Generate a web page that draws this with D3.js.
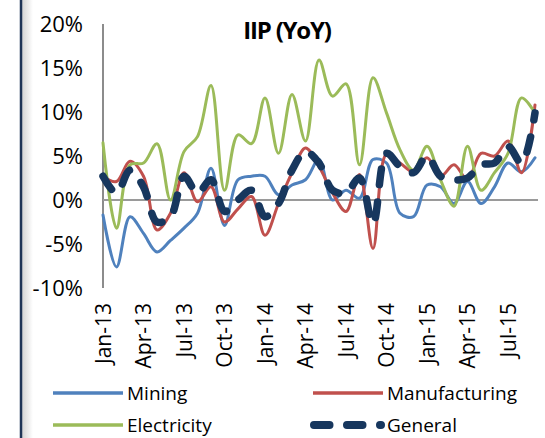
<!DOCTYPE html>
<html>
<head>
<meta charset="utf-8">
<script src="https://cdn.jsdelivr.net/npm/d3@7"></script>
<style>
  body { margin: 0; background: #fff; }
  svg { display: block; font-family: "Open Sans", sans-serif; }
</style>
</head>
<body>
<svg id="chart" width="545" height="438"></svg>
<script>
// months Jan-13 .. Sep-15
let months = ['Jan-13', 'Feb-13', 'Mar-13', 'Apr-13', 'May-13', 'Jun-13', 'Jul-13', 'Aug-13', 'Sep-13',
              'Oct-13', 'Nov-13', 'Dec-13', 'Jan-14', 'Feb-14', 'Mar-14', 'Apr-14', 'May-14', 'Jun-14',
              'Jul-14', 'Aug-14', 'Sep-14', 'Oct-14', 'Nov-14', 'Dec-14', 'Jan-15', 'Feb-15', 'Mar-15',
              'Apr-15', 'May-15', 'Jun-15', 'Jul-15', 'Aug-15', 'Sep-15'];
let tickLabels = ['Jan-13', 'Apr-13', 'Jul-13', 'Oct-13', 'Jan-14', 'Apr-14', 'Jul-14', 'Oct-14',
                  'Jan-15', 'Apr-15', 'Jul-15'];
let yTicks = [-10, -5, 0, 5, 10, 15, 20];

let mining = [-1.7, -7.6, -1.9, -3.8, -5.9, -4.6, -3.2, -1.5, 3.6, -2.9, 2.3, 2.7, 2.7, 0.6, 1.7, 2.3, 4.6,
              0.0, 1.1, 0.2, 4.6, 4.2, -1.5, -1.9, 1.7, 1.5, -0.4, 2.1, -0.4, 1.5, 4.2, 3.2, 4.8];
let manufacturing = [2.7, 2.1, 4.4, 2.7, -3.4, -1.5, 3.1, -0.2, 1.5, -2.5, -1.0, 0.4, -4.0, -0.4, 3.1, 5.9, 3.8,
                     0.8, -1.3, 2.9, -5.5, 5.2, 4.2, 3.2, 4.8, 2.7, 4.0, 2.3, 5.3, 5.0, 6.7, 3.1, 10.8];
let electricity = [6.5, -3.2, 4.0, 4.2, 6.4, 0.0, 5.5, 7.2, 13.0, 1.1, 7.4, 6.4, 11.6, 5.3, 12.0, 6.7, 15.9,
                   11.8, 13.2, 4.0, 13.9, 9.9, 5.7, 3.4, 6.1, 2.3, -0.7, 6.1, 1.1, 3.1, 5.3, 11.6, 9.9];
let general = [2.7, 0.8, 3.4, 1.5, -2.5, -1.9, 2.7, 0.8, 2.3, -1.3, 0.0, 1.1, -1.9, -0.4, 3.4, 5.5, 4.2,
               1.1, 0.8, 2.5, -2.7, 5.3, 3.8, 3.1, 5.0, 2.7, 2.3, 2.5, 4.0, 4.2, 6.1, 4.2, 9.9];

let series = [
    {name: 'Mining', values: mining, color: '#4f81bd', width: 3},
    {name: 'Manufacturing', values: manufacturing, color: '#c0504d', width: 3},
    {name: 'Electricity', values: electricity, color: '#9bbb59', width: 3},
    {name: 'General', values: general, color: '#17375e', width: 7.5, dash: '15.5,17.5'}
];

let svg = d3.select('#chart');

// frame edge on the left
let defs = svg.append('defs');
let grad = defs.append('linearGradient').attr('id', 'shade');
grad.append('stop').attr('offset', '0%').attr('stop-color', '#d4d4d4');
grad.append('stop').attr('offset', '100%').attr('stop-color', '#ffffff');
svg.append('rect').attr('x', 22).attr('y', 0).attr('width', 11).attr('height', 438).attr('fill', 'url(#shade)');
svg.append('line').attr('x1', 21).attr('x2', 21).attr('y1', 0).attr('y2', 438)
    .attr('stroke', '#1f3557').attr('stroke-width', 2.5);

let x = d3.scalePoint().domain(months).range([103, 535]),
    y = d3.scaleLinear().domain([-10, 20]).range([288, 24]);

// title
svg.append('text')
    .attr('x', 287).attr('y', 39)
    .attr('text-anchor', 'middle')
    .attr('font-weight', 'bold')
    .attr('font-size', 24)
    .attr('letter-spacing', -1.2)
    .text('IIP (YoY)');

// y axis labels
let yAxis = svg.append('g')
    .attr('transform', 'translate(103,0)')
    .call(d3.axisLeft(y).tickValues(yTicks).tickSize(0).tickPadding(20).tickFormat(d => d + '%'));
yAxis.select('.domain').remove();
yAxis.selectAll('text').attr('font-size', 22).attr('fill', '#000').attr('font-family', 'Open Sans');

svg.append('line')
    .attr('x1', 103).attr('x2', 103).attr('y1', y(20)).attr('y2', y(-10))
    .attr('stroke', '#8c8c8c').attr('stroke-width', 2);

// zero line
svg.append('line')
    .attr('x1', 103).attr('x2', 538).attr('y1', y(0)).attr('y2', y(0))
    .attr('stroke', '#9a9a9a').attr('stroke-width', 2);

// x axis labels (rotated)
let xAxis = svg.append('g')
    .attr('transform', 'translate(0,' + y(-10) + ')')
    .call(d3.axisBottom(x).tickValues(tickLabels).tickSize(0));
xAxis.select('.domain').remove();
xAxis.selectAll('text')
    .attr('font-size', 21)
    .attr('font-family', 'Open Sans')
    .attr('fill', '#000')
    .attr('transform', 'rotate(-90)')
    .attr('text-anchor', 'end')
    .attr('x', -15)
    .attr('y', 0)
    .attr('dy', '0.35em');

let line = d3.line()
    .x((d, i) => x(months[i]))
    .y(d => y(d))
    .curve(d3.curveCatmullRom);

svg.selectAll('.series')
    .data(series)
    .enter()
    .append('path')
    .attr('class', 'series')
    .attr('fill', 'none')
    .attr('stroke', d => d.color)
    .attr('stroke-width', d => d.width)
    .attr('stroke-linecap', 'round')
    .attr('stroke-linejoin', 'round')
    .attr('stroke-dasharray', d => d.dash || null)
    .attr('d', d => line(d.values));

// legend
let legendPos = [[53, 393], [313, 393], [53, 425], [313, 425]];
let legend = svg.selectAll('.legend')
    .data(series)
    .enter()
    .append('g')
    .attr('class', 'legend')
    .attr('transform', (d, i) => 'translate(' + legendPos[i][0] + ',' + legendPos[i][1] + ')');

legend.append('line')
    .attr('x1', d => d.dash ? 1 : 0)
    .attr('x2', d => d.dash ? 68 : 70)
    .attr('stroke', d => d.color)
    .attr('stroke-width', d => d.dash ? 8 : 3.5)
    .attr('stroke-linecap', d => d.dash ? 'round' : 'butt')
    .attr('stroke-dasharray', d => d.dash || null);

legend.append('text')
    .attr('x', 74)
    .attr('dy', '0.35em')
    .attr('font-size', 19)
    .text(d => d.name);
</script>
</body>
</html>
